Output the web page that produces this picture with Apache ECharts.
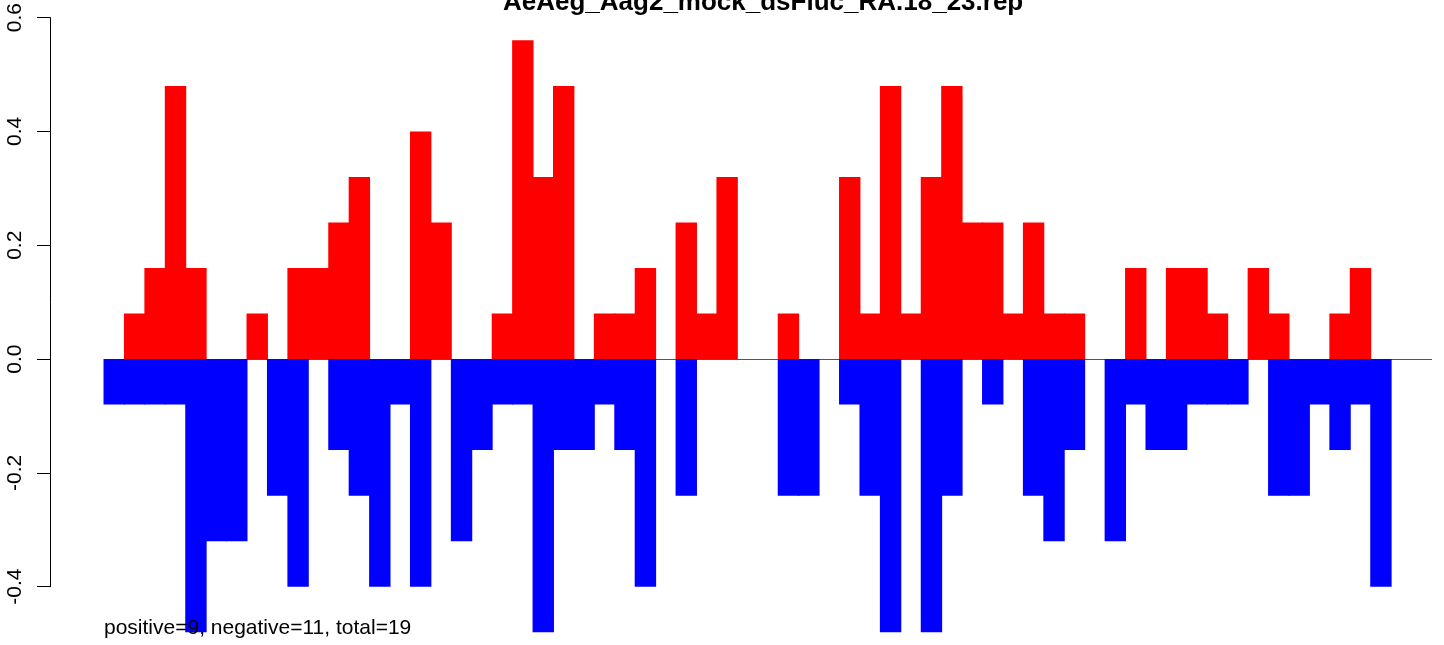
<!DOCTYPE html>
<html>
<head>
<meta charset="utf-8">
<script src="https://cdn.jsdelivr.net/npm/echarts@6/dist/echarts.min.js"></script>
<style>
html,body{margin:0;padding:0;background:#fff;}
#chart{width:1444px;height:645px;}
</style>
</head>
<body>
<div id="chart"></div>
<script>
const titleText = "AeAeg_Aag2_mock_dsFluc_RA.18_23.rep";
const noteText = "positive=9, negative=11, total=19";
const yTicks = [-0.4, -0.2, 0.0, 0.2, 0.4, 0.6];

const positions = Array.from({length: 65}, (_, i) => String(i + 1));

const positiveValues = [
  0, 0.08, 0.16, 0.48, 0.16, 0, 0, 0.08, 0, 0.16,
  0.16, 0.24, 0.32, 0, 0, 0.40, 0.24, 0, 0, 0.08,
  0.56, 0.32, 0.48, 0, 0.08, 0.08, 0.16, 0, 0.24, 0.08,
  0.32, 0, 0, 0.08, 0, 0, 0.32, 0.08, 0.48, 0.08,
  0.32, 0.48, 0.24, 0.24, 0.08, 0.24, 0.08, 0.08, 0, 0,
  0.16, 0, 0.16, 0.16, 0.08, 0, 0.16, 0.08, 0, 0,
  0.08, 0.16, 0, 0, 0
];

const negativeValues = [
  -0.08, -0.08, -0.08, -0.08, -0.48, -0.32, -0.32, 0, -0.24, -0.40,
  0, -0.16, -0.24, -0.40, -0.08, -0.40, 0, -0.32, -0.16, -0.08,
  -0.08, -0.48, -0.16, -0.16, -0.08, -0.16, -0.40, 0, -0.24, 0,
  0, 0, 0, -0.24, -0.24, 0, -0.08, -0.24, -0.48, 0,
  -0.48, -0.24, 0, -0.08, 0, -0.24, -0.32, -0.16, 0, -0.32,
  -0.08, -0.16, -0.16, -0.08, -0.08, -0.08, 0, -0.24, -0.24, -0.08,
  -0.16, -0.08, -0.40, 0, 0
];

const FONT = "'Liberation Sans', Arial, Helvetica, sans-serif";
const chart = echarts.init(document.getElementById('chart'), null, {renderer: 'canvas'});

const asBars = arr => arr.map(v => (v === 0 ? null : v));

chart.setOption({
  animation: false,
  backgroundColor: '#ffffff',
  title: [
    {
      text: titleText,
      left: 503,
      top: -10,
      padding: 0,
      textStyle: {fontFamily: FONT, fontSize: 26, fontWeight: 'bold', color: '#000'}
    },
    {
      text: noteText,
      left: 104,
      top: 618,
      padding: 0,
      textStyle: {fontFamily: FONT, fontSize: 21, fontWeight: 'normal', color: '#000'}
    }
  ],
  grid: {left: 104, right: 12, top: 15.3, bottom: 58.3, containLabel: false},
  xAxis: {
    type: 'category',
    data: positions,
    show: false,
    boundaryGap: true
  },
  yAxis: {
    type: 'value',
    min: yTicks[0],
    max: yTicks[yTicks.length - 1],
    interval: 0.2,
    offset: 54,
    axisLine: {show: true, lineStyle: {color: '#000', width: 1}},
    axisTick: {show: true, length: 13, lineStyle: {color: '#000', width: 1}},
    splitLine: {show: false},
    axisLabel: {
      rotate: 90,
      margin: 24,
      fontFamily: FONT,
      fontSize: 21,
      color: '#000',
      formatter: v => (Math.abs(v) < 1e-9 ? 0 : v).toFixed(1)
    }
  },
  series: [
    {
      name: 'positive',
      type: 'bar',
      stack: 'reads',
      data: asBars(positiveValues),
      barWidth: 21.4,
      barCategoryGap: 0,
      clip: false,
      itemStyle: {color: '#ff0000'},
      emphasis: {disabled: true},
      markLine: {
        silent: true,
        z: 1,
        symbol: 'none',
        label: {show: false},
        lineStyle: {color: '#555', width: 1, type: 'solid'},
        data: [{yAxis: 0}]
      }
    },
    {
      name: 'negative',
      type: 'bar',
      stack: 'reads',
      data: asBars(negativeValues),
      barWidth: 21.4,
      barCategoryGap: 0,
      clip: false,
      itemStyle: {color: '#0000ff'},
      emphasis: {disabled: true}
    }
  ]
});
</script>
</body>
</html>
